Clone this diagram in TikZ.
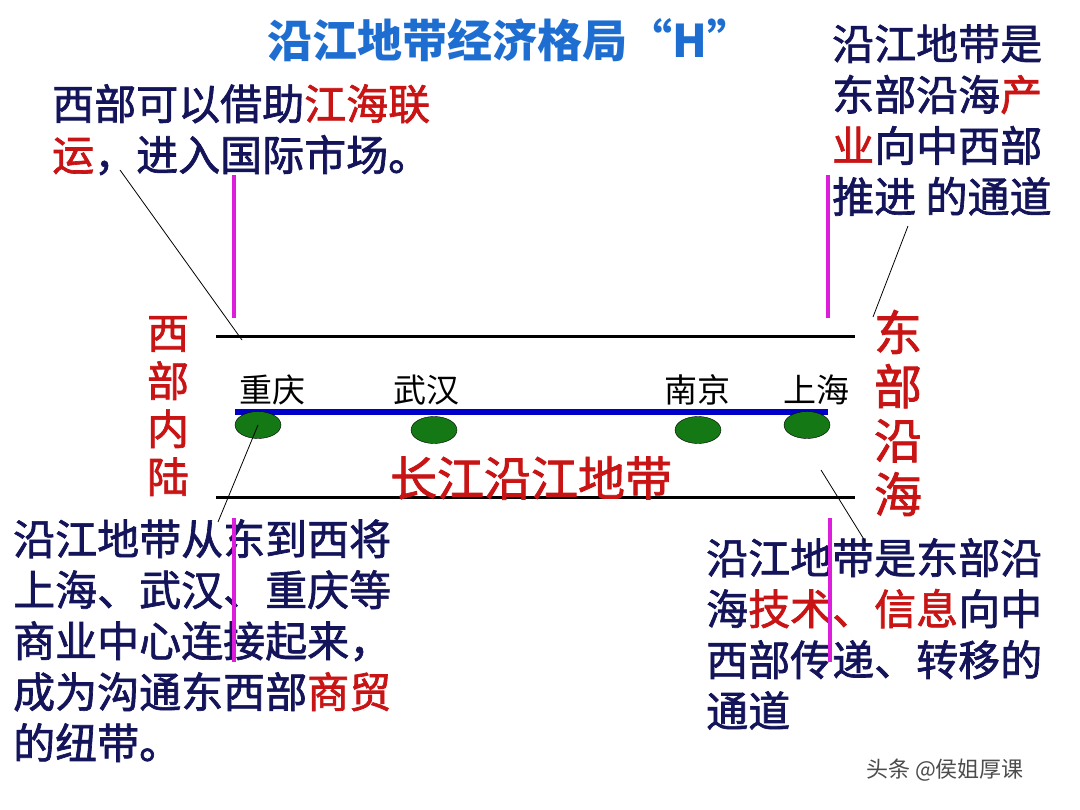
\documentclass[tikz,border=0pt]{standalone}
\usepackage{fontspec}
\usetikzlibrary{shapes.geometric}
\setmainfont{Noto Sans CJK SC}
\newfontfamily\heavy{Noto Sans CJK SC}[FakeBold=1.6]
\definecolor{navy}{RGB}{20,20,90}
\definecolor{hl}{RGB}{200,20,20}
\definecolor{titleblue}{RGB}{30,110,210}
\definecolor{pink}{RGB}{220,30,220}
\definecolor{river}{RGB}{0,0,200}
\definecolor{city}{RGB}{20,120,20}
\begin{document}
\begin{tikzpicture}[x=1pt,y=-1pt,
  every node/.style={inner sep=0pt},
  note/.style={anchor=north west, align=left, text=navy, font=\fontsize{42}{51}\selectfont\heavy},
  cityname/.style={font=\fontsize{33}{33}\selectfont},
  side/.style={text=hl, align=center},
  bar/.style={pink, line width=4pt},
  edge/.style={black, line width=3pt},
  leader/.style={black, line width=0.8pt},
  town/.style={ellipse, draw=black, fill=city, minimum width=46pt, minimum height=27pt}]
\useasboundingbox (0,0) rectangle (1080,810);
\fill [white] (0,0) rectangle (1080,810);
% title
\node (title) [text=titleblue, font=\fontsize{45}{45}\selectfont\bfseries] at (510,40) {沿江地带经济格局“H”};
% notes
\node (nw) [note] at (52,84) {西部可以借助\textcolor{hl}{江海联}\\\textcolor{hl}{运}，进入国际市场。};
\node (ne) [note] at (832,24) {沿江地带是\\东部沿海\textcolor{hl}{产}\\\textcolor{hl}{业}向中西部\\推进 的通道};
\node (sw) [note] at (13,519) {沿江地带从东到西将\\上海、武汉、重庆等\\商业中心连接起来，\\成为沟通东西部\textcolor{hl}{商贸}\\的纽带。};
\node (se) [note] at (706,538) {沿江地带是东部沿\\海\textcolor{hl}{技术、信息}向中\\西部传递、转移的\\通道};
% the H
\draw [bar] (234,175) -- (234,318);
\draw [bar] (828,175) -- (828,318);
\draw [bar] (234,518) -- (234,662);
\draw [bar] (830,518) -- (830,662);
\draw [edge] (216,337) -- (855,337);
\draw [edge] (216,497) -- (855,497);
\draw [river, line width=6pt] (235,412) -- (828,412);
% cities
\node (cq) [town] at (258,425) {};
\node (wh) [town] at (434,430) {};
\node (nj) [town] at (698,430) {};
\node (sh) [town] at (807,425) {};
\node [cityname] at (272,390) {重庆};
\node [cityname] at (426,390) {武汉};
\node [cityname] at (697,390) {南京};
\node [cityname] at (816,390) {上海};
\node (belt) [text=hl, font=\fontsize{47}{47}\selectfont\heavy] at (531,478) {长江沿江地带};
\node (west) [side, font=\fontsize{42}{48}\selectfont\heavy] at (168,406) {西\\部\\内\\陆};
\node (east) [side, font=\fontsize{48}{54}\selectfont\heavy] at (898,413) {东\\部\\沿\\海};
% leaders
\coordinate (a1) at (120,170);
\coordinate (a2) at (242,340);
\coordinate (b1) at (908,226);
\coordinate (b2) at (873,317);
\coordinate (c2) at (218,522);
\coordinate (d1) at (821,470);
\coordinate (d2) at (865,541);
\draw [leader] (a1) -- (a2);
\draw [leader] (b1) -- (b2);
\draw [leader] (cq.center) -- (c2);
\draw [leader] (d1) -- (d2);
% mark
\node (mark) [text=black!70, font=\fontsize{22}{22}\selectfont] at (945,770) {头条 @侯姐厚课};
\end{tikzpicture}
\end{document}
